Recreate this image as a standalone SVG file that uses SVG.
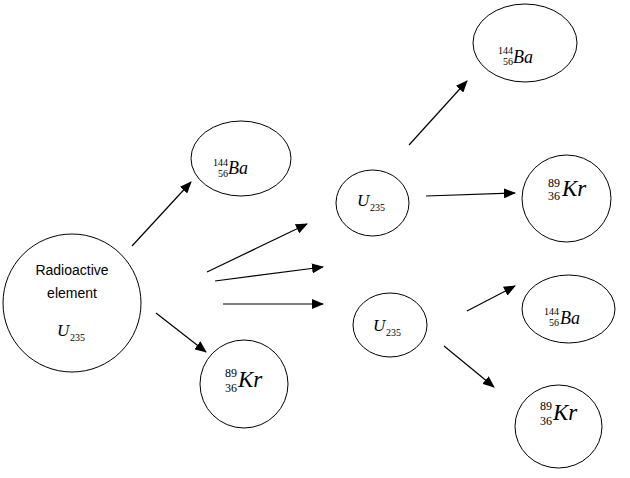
<svg xmlns="http://www.w3.org/2000/svg" width="630" height="478" viewBox="0 0 630 478">
<style>
.n{fill:#fff;stroke:#000;stroke-width:1}
.lbl{font-family:"Liberation Sans","Noto Sans",sans-serif;font-size:14px;fill:#000;text-anchor:middle}
.it{font-family:"Liberation Serif","DejaVu Serif",serif;font-style:italic;fill:#000}
.num{font-family:"Liberation Serif","DejaVu Serif",serif;fill:#000}
.c line{stroke:#000;stroke-width:1.2;marker-end:url(#ah)}
</style>
<defs>
<marker id="ah" markerUnits="userSpaceOnUse" markerWidth="12" markerHeight="10" refX="11" refY="5" orient="auto">
<path d="M0,0 L12,5 L0,10 Z" fill="#000"/>
</marker>
</defs>
<rect width="630" height="478" fill="#fff"/>
<g id="radioactive">
<ellipse class="n" cx="72" cy="303" rx="69" ry="69"/>
<text class="lbl" x="72" y="275">Radioactive</text>
<text class="lbl" x="72" y="298">element</text>
<text class="it" x="57" y="336" font-size="17">U</text>
<text class="num" x="70" y="341" font-size="10">235</text>
</g>
<g id="ba1">
<ellipse class="n" cx="241" cy="158.5" rx="50" ry="37.5"/>
<text class="num" x="228" y="166" font-size="10" text-anchor="end">144</text>
<text class="num" x="228" y="177" font-size="10" text-anchor="end">56</text>
<text class="it" x="228" y="174" font-size="18">Ba</text>
</g>
<g id="kr1">
<ellipse class="n" cx="244" cy="384" rx="44" ry="44"/>
<text class="num" x="237" y="377" font-size="12" text-anchor="end">89</text>
<text class="num" x="237" y="392" font-size="12" text-anchor="end">36</text>
<text class="it" x="238" y="387" font-size="23">Kr</text>
</g>
<g id="u1">
<ellipse class="n" cx="372.5" cy="203" rx="36.5" ry="33"/>
<text class="it" x="357" y="206" font-size="17">U</text>
<text class="num" x="370" y="211" font-size="10">235</text>
</g>
<g id="u2">
<ellipse class="n" cx="390" cy="325" rx="37" ry="32"/>
<text class="it" x="373" y="331" font-size="17">U</text>
<text class="num" x="386" y="336" font-size="10">235</text>
</g>
<g id="ba2">
<ellipse class="n" cx="525" cy="43" rx="52" ry="39"/>
<text class="num" x="513" y="54" font-size="10" text-anchor="end">144</text>
<text class="num" x="513" y="65" font-size="10" text-anchor="end">56</text>
<text class="it" x="513" y="63" font-size="18">Ba</text>
</g>
<g id="kr2">
<ellipse class="n" cx="566.5" cy="198.5" rx="44.5" ry="43.5"/>
<text class="num" x="560" y="187" font-size="12" text-anchor="end">89</text>
<text class="num" x="560" y="200" font-size="12" text-anchor="end">36</text>
<text class="it" x="562" y="196" font-size="23">Kr</text>
</g>
<g id="ba3">
<ellipse class="n" cx="568.5" cy="309" rx="46.5" ry="34"/>
<text class="num" x="559" y="315" font-size="10" text-anchor="end">144</text>
<text class="num" x="559" y="326" font-size="10" text-anchor="end">56</text>
<text class="it" x="560" y="324" font-size="18">Ba</text>
</g>
<g id="kr3">
<ellipse class="n" cx="558.5" cy="426.5" rx="43.5" ry="41.5"/>
<text class="num" x="552" y="410" font-size="12" text-anchor="end">89</text>
<text class="num" x="552" y="425" font-size="12" text-anchor="end">36</text>
<text class="it" x="553" y="420" font-size="23">Kr</text>
</g>
<g id="connectors" class="c">
<line x1="132" y1="246" x2="191" y2="182"/>
<line x1="156" y1="313" x2="206" y2="352"/>
<line x1="207" y1="272" x2="307" y2="224"/>
<line x1="215" y1="281" x2="323" y2="267"/>
<line x1="223" y1="304" x2="323" y2="304"/>
<line x1="409" y1="145" x2="467" y2="81"/>
<line x1="426" y1="196" x2="515" y2="193"/>
<line x1="467" y1="311" x2="515" y2="286"/>
<line x1="444" y1="346" x2="494" y2="387"/>
</g>
</svg>
